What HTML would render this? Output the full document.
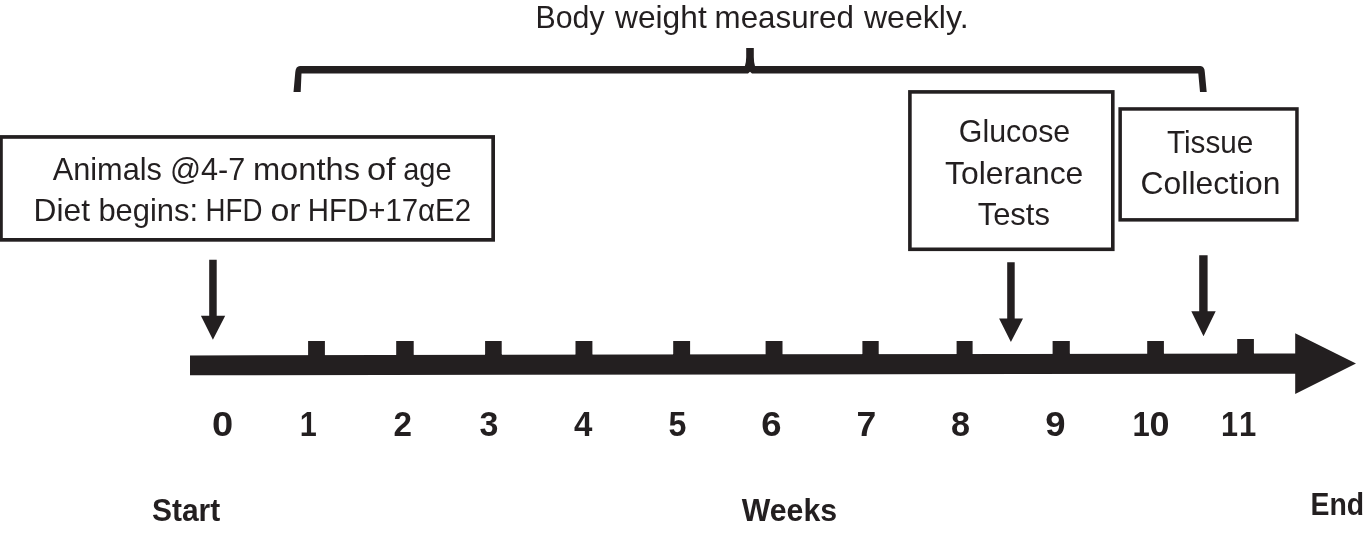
<!DOCTYPE html>
<html><head><meta charset="utf-8"><style>
html,body{margin:0;padding:0;background:#fff;}
body{width:1372px;height:533px;overflow:hidden;}
svg{display:block;will-change:transform;}
text{font-family:"Liberation Sans",sans-serif;fill:#231f20;}
</style></head><body>
<svg width="1372" height="533" viewBox="0 0 1372 533">
<rect width="1372" height="533" fill="#fff"/>
<g fill="#231f20">
<path d="M293.5,92 L295.3,72 Q295.8,66 300,66 L744.9,66 Q746.2,62 746.2,57 L746.2,48 L753.8,48 L753.8,57 Q753.8,62 755,66 L1200.4,66 Q1204.6,66.5 1204.8,72 L1206.7,92 L1200,92 L1198.3,73.4 L752,73.4 L750,71.8 L748,73.4 L301.5,73.4 L300.7,92 Z"/>
<path d="M190,355.4 L1296,353.4 L1296,373.7 L190,375.3 Z M1295.2,333.2 L1356,363.6 L1295.2,393.9 Z M308.1,341.0 L324.9,341.0 L324.9,360 L308.1,360 Z M396.2,341.0 L413.7,341.0 L413.7,360 L396.2,360 Z M485.1,341.0 L501.7,341.0 L501.7,360 L485.1,360 Z M575.5,341.0 L592.4,341.0 L592.4,360 L575.5,360 Z M673.2,341.0 L690.1,341.0 L690.1,360 L673.2,360 Z M765.6,341.0 L782.5,341.0 L782.5,360 L765.6,360 Z M862.4,341.0 L878.7,341.0 L878.7,360 L862.4,360 Z M956.6,341.0 L972.6,341.0 L972.6,360 L956.6,360 Z M1052.6,341.0 L1069.8,341.0 L1069.8,360 L1052.6,360 Z M1147.2,341.0 L1163.9,341.0 L1163.9,360 L1147.2,360 Z M1237.2,338.9 L1253.9,338.9 L1253.9,360 L1237.2,360 Z "/>
<path d="M209.2,259.8 L216.7,259.8 L216.7,315.8 L225.2,315.8 L212.9,339.8 L200.9,315.8 L209.2,315.8 Z"/><path d="M1007.2,262.2 L1014.7,262.2 L1014.7,318.6 L1023.0,318.6 L1010.9,342.1 L999.1,318.6 L1007.2,318.6 Z"/><path d="M1199.2,255.3 L1207.6,255.3 L1207.6,311.2 L1215.7,311.2 L1203.5,336.2 L1191.3,311.2 L1199.2,311.2 Z"/>
</g>
<rect x="0.95" y="136.95" width="492.20" height="102.90" fill="none" stroke="#231f20" stroke-width="3.7"/><rect x="909.90" y="91.90" width="202.90" height="157.40" fill="none" stroke="#231f20" stroke-width="3.6"/><rect x="1120.15" y="108.95" width="176.80" height="110.90" fill="none" stroke="#231f20" stroke-width="3.5"/>
<text transform="translate(535.58,27.80) scale(0.9715,1)" font-size="31.16">Body</text>
<text transform="translate(615.00,27.80) scale(1.0185,1)" font-size="31.16">weight</text>
<text transform="translate(714.61,27.80) scale(1.0052,1)" font-size="31.16">measured</text>
<text transform="translate(863.90,27.80) scale(1.0306,1)" font-size="31.16">weekly.</text>
<text transform="translate(52.70,179.60) scale(0.9856,1)" font-size="31.16">Animals</text>
<text transform="translate(170.05,179.60) scale(0.9821,1)" font-size="31.16">@4-7</text>
<text transform="translate(252.91,179.60) scale(1.0478,1)" font-size="31.16">months</text>
<text transform="translate(366.92,179.60) scale(1.1050,1)" font-size="31.16">of</text>
<text transform="translate(403.24,179.60) scale(0.9303,1)" font-size="31.16">age</text>
<text transform="translate(33.56,220.80) scale(1.0179,1)" font-size="31.16">Diet</text>
<text transform="translate(98.44,220.80) scale(0.9922,1)" font-size="31.16">begins:</text>
<text transform="translate(205.59,220.80) scale(0.8880,1)" font-size="31.16">HFD</text>
<text transform="translate(270.44,220.80) scale(1.0904,1)" font-size="31.16">or</text>
<text transform="translate(307.85,220.80) scale(0.9438,1)" font-size="31.16">HFD+17αE2</text>
<text transform="translate(958.78,141.80) scale(0.9754,1)" font-size="31.16">Glucose</text>
<text transform="translate(945.06,183.60) scale(1.0237,1)" font-size="31.16">Tolerance</text>
<text transform="translate(977.68,224.90) scale(0.9938,1)" font-size="31.16">Tests</text>
<text transform="translate(1166.91,153.00) scale(0.9538,1)" font-size="31.16">Tissue</text>
<text transform="translate(1140.61,194.00) scale(1.0220,1)" font-size="31.16">Collection</text>
<text transform="translate(152.00,520.90) scale(0.9395,1)" font-size="31.88" font-weight="bold">Start</text>
<text transform="translate(741.70,520.80) scale(0.9543,1)" font-size="31.74" font-weight="bold">Weeks</text>
<text transform="translate(1310.51,514.70) scale(0.9157,1)" font-size="31.01" font-weight="bold">End</text>
<text transform="translate(212.08,435.90) scale(1.1088,1)" font-size="34.35" font-weight="bold">0</text>
<text transform="translate(299.76,435.90) scale(0.8920,1)" font-size="34.35" font-weight="bold">1</text>
<text transform="translate(393.50,435.90) scale(0.9685,1)" font-size="34.35" font-weight="bold">2</text>
<text transform="translate(479.42,435.90) scale(0.9899,1)" font-size="34.35" font-weight="bold">3</text>
<text transform="translate(573.94,435.90) scale(0.9613,1)" font-size="34.35" font-weight="bold">4</text>
<text transform="translate(668.53,435.90) scale(0.9375,1)" font-size="34.35" font-weight="bold">5</text>
<text transform="translate(761.24,435.90) scale(1.0614,1)" font-size="34.35" font-weight="bold">6</text>
<text transform="translate(856.58,435.90) scale(1.0345,1)" font-size="34.35" font-weight="bold">7</text>
<text transform="translate(950.97,435.90) scale(0.9957,1)" font-size="34.35" font-weight="bold">8</text>
<text transform="translate(1045.14,435.90) scale(1.0614,1)" font-size="34.35" font-weight="bold">9</text>
<text transform="translate(1132.54,435.90) scale(0.9044,1)" font-size="34.35" font-weight="bold">1</text>
<text transform="translate(1149.56,435.90) scale(1.0469,1)" font-size="34.35" font-weight="bold">0</text>
<text transform="translate(1220.96,435.90) scale(0.8920,1)" font-size="34.35" font-weight="bold">1</text>
<text transform="translate(1238.94,435.90) scale(0.9044,1)" font-size="34.35" font-weight="bold">1</text>
</svg>
</body></html>
